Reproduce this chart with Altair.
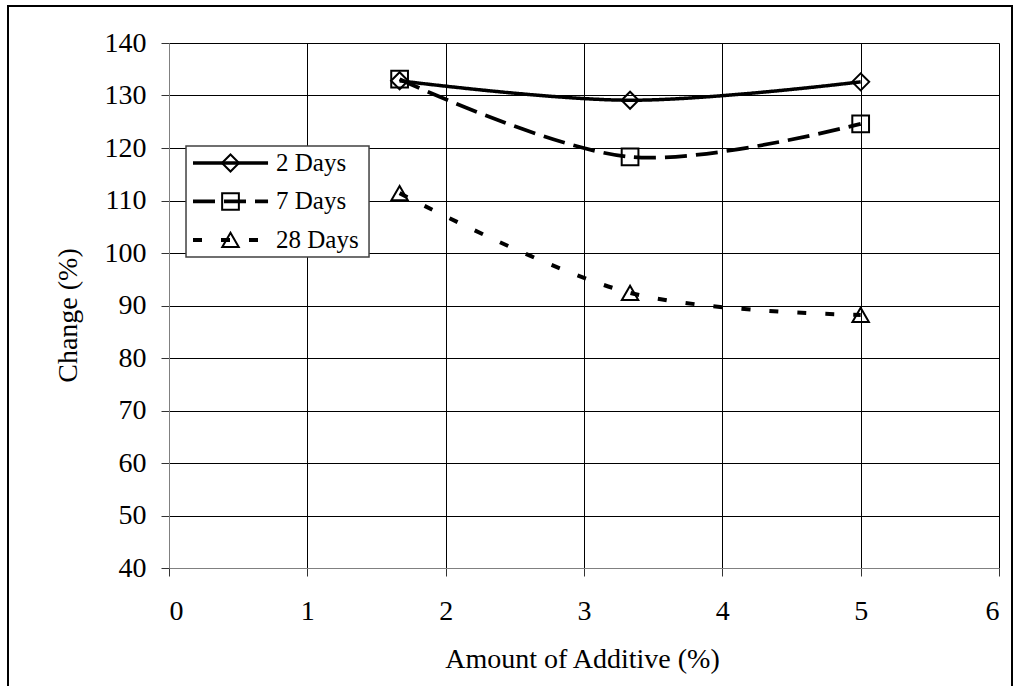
import altair as alt
import pandas as pd

# Measured values
additive = [1.667, 3.333, 5.0]
change_2_days = [132.8, 129.1, 132.6]
change_7_days = [133.1, 118.3, 124.6]
change_28_days = [111.4, 92.4, 88.2]
series_names = ["2 Days", "7 Days", "28 Days"]
x_ticks = [0, 1, 2, 3, 4, 5, 6]
y_ticks = [40, 50, 60, 70, 80, 90, 100, 110, 120, 130, 140]

rows = []
for name, values in zip(series_names, [change_2_days, change_7_days, change_28_days]):
    for a, c in zip(additive, values):
        rows.append({"series": name, "additive": a, "change": c})
df = pd.DataFrame(rows)

# Line and marker styling per series
dash_scale = alt.Scale(domain=series_names, range=[[1, 0], [22, 9], [9, 19]])
width_scale = alt.Scale(domain=series_names, range=[3.5, 4, 4.5])
shape_scale = alt.Scale(domain=series_names, range=["diamond", "square", "triangle-up"])
size_scale = alt.Scale(domain=series_names, range=[290, 270, 380])

SERIF = "Liberation Serif, Times New Roman, serif"

x_enc = alt.X(
    "additive:Q",
    scale=alt.Scale(domain=[0, 6], nice=False, zero=False),
    axis=alt.Axis(
        values=x_ticks, format="d", title="Amount of Additive (%)",
        labelPadding=21, titleX=413, titleY=91, titleBaseline="middle",
        titleAlign="center",
    ),
)
y_enc = alt.Y(
    "change:Q",
    scale=alt.Scale(domain=[40, 140], nice=False, zero=False),
    axis=alt.Axis(
        values=y_ticks, format="d", title="Change (%)",
        labelPadding=15, titleX=-101, titleY=272, titleAngle=-90,
        titleBaseline="middle", titleAlign="center",
    ),
)

base = alt.Chart(df)

lines = base.mark_line(interpolate="catmull-rom", color="black").encode(
    x=x_enc,
    y=y_enc,
    detail="series:N",
    strokeDash=alt.StrokeDash("series:N", scale=dash_scale, legend=None),
    strokeWidth=alt.StrokeWidth("series:N", scale=width_scale, legend=None),
)

points = base.mark_point(filled=False, color="black", strokeWidth=2, opacity=1).encode(
    x="additive:Q",
    y="change:Q",
    shape=alt.Shape("series:N", scale=shape_scale, legend=None),
    size=alt.Size("series:N", scale=size_scale, legend=None),
)

# Legend box drawn inside the plot, placed in data units
legend_df = pd.DataFrame({
    "series": series_names,
    "lx1": [0.1735] * 3,
    "lx2": [0.716] * 3,
    "lxm": [0.4446] * 3,
    "ltx": [0.774] * 3,
    "ly": [117.14, 109.81, 102.48],
})
legend_box_df = pd.DataFrame({"bx1": [0.123], "bx2": [1.446], "by1": [120.38], "by2": [99.24]})

legend_box = alt.Chart(legend_box_df).mark_rect(
    fill="white", stroke="#404040", strokeWidth=1.5
).encode(x="bx1:Q", x2="bx2", y="by1:Q", y2="by2")

legend_lines = alt.Chart(legend_df).mark_rule(color="black").encode(
    x="lx1:Q", x2="lx2", y="ly:Q",
    strokeDash=alt.StrokeDash("series:N", scale=dash_scale, legend=None),
    strokeWidth=alt.StrokeWidth("series:N", scale=width_scale, legend=None),
)
legend_marks = alt.Chart(legend_df).mark_point(
    filled=False, color="black", strokeWidth=2, opacity=1
).encode(
    x="lxm:Q", y="ly:Q",
    shape=alt.Shape("series:N", scale=shape_scale, legend=None),
    size=alt.Size("series:N", scale=size_scale, legend=None),
)
legend_text = alt.Chart(legend_df).mark_text(
    align="left", baseline="middle", font=SERIF, fontSize=25, color="black"
).encode(x="ltx:Q", y="ly:Q", text="series:N")

# Outer frame around the whole figure
frame = alt.Chart(pd.DataFrame({"k": [0]})).mark_rect(
    fillOpacity=0, stroke="black", strokeWidth=2, clip=False
).encode(
    x=alt.value(-161), x2=alt.value(843), y=alt.value(-37), y2=alt.value(650)
)

chart = alt.layer(
    lines, points, legend_box, legend_lines, legend_marks, legend_text, frame
).properties(
    width=830,
    height=525,
    autosize=alt.AutoSizeParams(type="none"),
    padding={"left": 169, "top": 43, "right": 15, "bottom": 118},
    background="white",
).configure_view(
    stroke=None
).configure_axis(
    labelFont=SERIF,
    labelFontSize=28,
    labelColor="black",
    titleFont=SERIF,
    titleFontSize=28,
    titleFontWeight="normal",
    titleColor="black",
    tickSize=8,
    tickColor="#333333",
    tickWidth=1,
    gridColor="black",
    gridWidth=1,
    gridOpacity=1,
    domainColor="#808080",
    domainWidth=1,
)

chart.save("out.html", embed_options={"renderer": "svg", "actions": False})
